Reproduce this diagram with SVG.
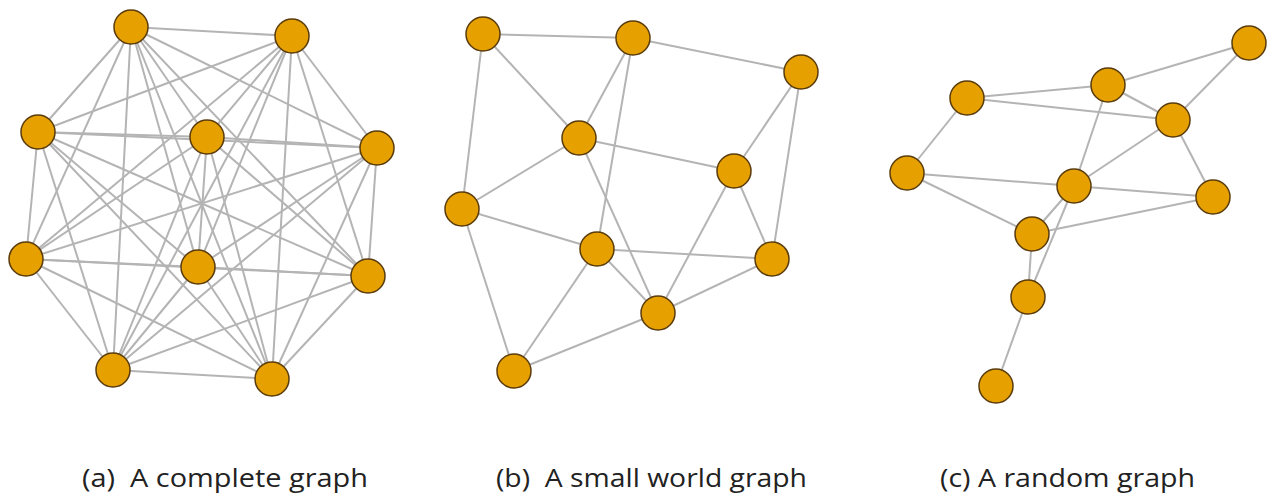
<svg xmlns="http://www.w3.org/2000/svg" width="1267" height="493" viewBox="0 0 1267 493">
<style>
.e line{stroke:#b4b4b4;stroke-width:2;fill:none}
.n circle{fill:#e6a100;stroke:#5a3c0c;stroke-width:1.5}
.lbl{font-family:"Open Sans","Liberation Sans",sans-serif;font-size:25px;fill:#222;white-space:pre}
</style>
<rect width="1267" height="493" fill="#fff"/>
<g id="connectors" class="e">
<g id="edges-a">
<line x1="131" y1="27" x2="292" y2="36"/><line x1="131" y1="27" x2="38" y2="132"/><line x1="131" y1="27" x2="207" y2="137"/><line x1="131" y1="27" x2="377" y2="148"/><line x1="131" y1="27" x2="26" y2="259"/><line x1="131" y1="27" x2="198" y2="267"/><line x1="131" y1="27" x2="368" y2="276"/><line x1="131" y1="27" x2="113" y2="370"/><line x1="131" y1="27" x2="272" y2="379"/>
<line x1="292" y1="36" x2="38" y2="132"/><line x1="292" y1="36" x2="207" y2="137"/><line x1="292" y1="36" x2="377" y2="148"/><line x1="292" y1="36" x2="26" y2="259"/><line x1="292" y1="36" x2="198" y2="267"/><line x1="292" y1="36" x2="368" y2="276"/><line x1="292" y1="36" x2="113" y2="370"/><line x1="292" y1="36" x2="272" y2="379"/>
<line x1="38" y1="132" x2="207" y2="137"/><line x1="38" y1="132" x2="377" y2="148"/><line x1="38" y1="132" x2="26" y2="259"/><line x1="38" y1="132" x2="198" y2="267"/><line x1="38" y1="132" x2="368" y2="276"/><line x1="38" y1="132" x2="113" y2="370"/><line x1="38" y1="132" x2="272" y2="379"/>
<line x1="207" y1="137" x2="377" y2="148"/><line x1="207" y1="137" x2="26" y2="259"/><line x1="207" y1="137" x2="198" y2="267"/><line x1="207" y1="137" x2="368" y2="276"/><line x1="207" y1="137" x2="113" y2="370"/><line x1="207" y1="137" x2="272" y2="379"/>
<line x1="377" y1="148" x2="26" y2="259"/><line x1="377" y1="148" x2="198" y2="267"/><line x1="377" y1="148" x2="368" y2="276"/><line x1="377" y1="148" x2="113" y2="370"/><line x1="377" y1="148" x2="272" y2="379"/>
<line x1="26" y1="259" x2="198" y2="267"/><line x1="26" y1="259" x2="368" y2="276"/><line x1="26" y1="259" x2="113" y2="370"/><line x1="26" y1="259" x2="272" y2="379"/>
<line x1="198" y1="267" x2="368" y2="276"/><line x1="198" y1="267" x2="113" y2="370"/><line x1="198" y1="267" x2="272" y2="379"/>
<line x1="368" y1="276" x2="113" y2="370"/><line x1="368" y1="276" x2="272" y2="379"/>
<line x1="113" y1="370" x2="272" y2="379"/>
</g>
<g id="edges-b">
<line x1="483" y1="34" x2="633" y2="38"/><line x1="483" y1="34" x2="579" y2="138"/><line x1="483" y1="34" x2="462" y2="209"/>
<line x1="633" y1="38" x2="801" y2="72"/><line x1="633" y1="38" x2="579" y2="138"/><line x1="633" y1="38" x2="597" y2="249"/>
<line x1="801" y1="72" x2="734" y2="171"/><line x1="801" y1="72" x2="772" y2="259"/>
<line x1="579" y1="138" x2="734" y2="171"/><line x1="579" y1="138" x2="462" y2="209"/><line x1="579" y1="138" x2="658" y2="313"/>
<line x1="734" y1="171" x2="658" y2="313"/><line x1="734" y1="171" x2="772" y2="259"/>
<line x1="462" y1="209" x2="597" y2="249"/><line x1="462" y1="209" x2="514" y2="371"/>
<line x1="597" y1="249" x2="772" y2="259"/><line x1="597" y1="249" x2="658" y2="313"/><line x1="597" y1="249" x2="514" y2="371"/>
<line x1="772" y1="259" x2="658" y2="313"/><line x1="658" y1="313" x2="514" y2="371"/>
</g>
<g id="edges-c">
<line x1="1249" y1="43" x2="1108" y2="85"/><line x1="1249" y1="43" x2="1173" y2="120"/>
<line x1="1108" y1="85" x2="967" y2="98"/><line x1="1108" y1="85" x2="1173" y2="120"/><line x1="1108" y1="85" x2="1074" y2="186"/>
<line x1="967" y1="98" x2="1173" y2="120"/><line x1="967" y1="98" x2="907" y2="173"/>
<line x1="1173" y1="120" x2="1074" y2="186"/><line x1="1173" y1="120" x2="1213" y2="197"/>
<line x1="907" y1="173" x2="1074" y2="186"/><line x1="907" y1="173" x2="1032" y2="234"/>
<line x1="1074" y1="186" x2="1213" y2="197"/><line x1="1074" y1="186" x2="1032" y2="234"/><line x1="1074" y1="186" x2="1028" y2="297"/>
<line x1="1032" y1="234" x2="1213" y2="197"/><line x1="1032" y1="234" x2="1028" y2="297"/>
<line x1="1028" y1="297" x2="996" y2="386"/>
</g>
</g>
<g id="nodes-a" class="n">
<g id="a1"><circle cx="131" cy="27" r="17"/></g>
<g id="a2"><circle cx="292" cy="36" r="17"/></g>
<g id="a3"><circle cx="38" cy="132" r="17"/></g>
<g id="a4"><circle cx="207" cy="137" r="17"/></g>
<g id="a5"><circle cx="377" cy="148" r="17"/></g>
<g id="a6"><circle cx="26" cy="259" r="17"/></g>
<g id="a7"><circle cx="198" cy="267" r="17"/></g>
<g id="a8"><circle cx="368" cy="276" r="17"/></g>
<g id="a9"><circle cx="113" cy="370" r="17"/></g>
<g id="a10"><circle cx="272" cy="379" r="17"/></g>
</g>
<g id="nodes-b" class="n">
<g id="b1"><circle cx="483" cy="34" r="17"/></g>
<g id="b2"><circle cx="633" cy="38" r="17"/></g>
<g id="b3"><circle cx="801" cy="72" r="17"/></g>
<g id="b4"><circle cx="579" cy="138" r="17"/></g>
<g id="b5"><circle cx="734" cy="171" r="17"/></g>
<g id="b6"><circle cx="462" cy="209" r="17"/></g>
<g id="b7"><circle cx="597" cy="249" r="17"/></g>
<g id="b8"><circle cx="772" cy="259" r="17"/></g>
<g id="b9"><circle cx="658" cy="313" r="17"/></g>
<g id="b10"><circle cx="514" cy="371" r="17"/></g>
</g>
<g id="nodes-c" class="n">
<g id="c1"><circle cx="1249" cy="43" r="17"/></g>
<g id="c2"><circle cx="1108" cy="85" r="17"/></g>
<g id="c3"><circle cx="967" cy="98" r="17"/></g>
<g id="c4"><circle cx="1173" cy="120" r="17"/></g>
<g id="c5"><circle cx="907" cy="173" r="17"/></g>
<g id="c6"><circle cx="1074" cy="186" r="17"/></g>
<g id="c7"><circle cx="1213" cy="197" r="17"/></g>
<g id="c8"><circle cx="1032" cy="234" r="17"/></g>
<g id="c9"><circle cx="1028" cy="297" r="17"/></g>
<g id="c10"><circle cx="996" cy="386" r="17"/></g>
</g>
<g id="labels">
<text class="lbl" x="82" y="487" textLength="286" lengthAdjust="spacingAndGlyphs" xml:space="preserve">(a)  A complete graph</text>
<text class="lbl" x="496" y="487" textLength="311" lengthAdjust="spacingAndGlyphs" xml:space="preserve">(b)  A small world graph</text>
<text class="lbl" x="940" y="487" textLength="255" lengthAdjust="spacingAndGlyphs">(c) A random graph</text>
</g>
</svg>
